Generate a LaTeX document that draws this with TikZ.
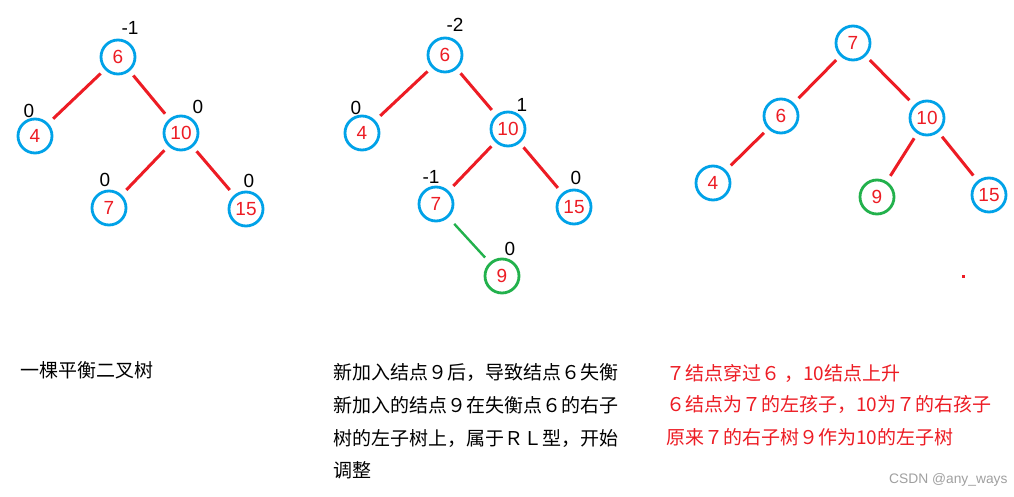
\documentclass[tikz,border=0pt]{standalone}
\usepackage{fontspec}
\setmainfont{Liberation Sans}
\newfontfamily\cjk{Noto Sans CJK SC}
\definecolor{pred}{HTML}{ED1C24}
\definecolor{pblue}{HTML}{00A2E8}
\definecolor{pgreen}{HTML}{22B14C}
\definecolor{wmgray}{HTML}{A0A0A0}
\begin{document}
\begin{tikzpicture}[x=1pt,y=-1pt,
  tnode/.style={circle, draw=pblue, line width=2.8pt, minimum size=34pt, inner sep=0pt, outer sep=0pt, text=pred, font=\fontsize{19}{20}\selectfont},
  gnode/.style={tnode, draw=pgreen},
  bal/.style={inner sep=0pt, font=\fontsize{19}{20}\selectfont},
  edge/.style={draw=pred, line width=3pt, shorten <=7pt, shorten >=8pt},
  gedge/.style={edge, draw=pgreen, line width=2.4pt, shorten <=10pt},
  txt/.style={anchor=west, inner sep=0pt, font=\cjk\fontsize{19}{24}\selectfont},
]
\fill[white] (0,0) rectangle (1014,497);
\useasboundingbox (0,0) rectangle (1014,497);

% ---------- tree 1 ----------
\node[tnode] (a6)  at (118,57)  {6};
\node[tnode] (a4)  at (35,136)  {4};
\node[tnode] (a10) at (181,133) {10};
\node[tnode] (a7)  at (109,208) {7};
\node[tnode] (a15) at (246,209) {15};
\draw[edge] (a6) -- (a4);
\draw[edge] (a6) -- (a10);
\draw[edge] (a10) -- (a7);
\draw[edge] (a10) -- (a15);
\node[bal] (ab6)  at (130,28)  {-1};
\node[bal] (ab4)  at (29,111)  {0};
\node[bal] (ab10) at (198,107) {0};
\node[bal] (ab7)  at (105,180) {0};
\node[bal] (ab15) at (249,181) {0};

% ---------- tree 2 ----------
\node[tnode] (b6)  at (445,55)  {6};
\node[tnode] (b4)  at (362,133) {4};
\node[tnode] (b10) at (508,129) {10};
\node[tnode] (b7)  at (436,204) {7};
\node[tnode] (b15) at (574,207) {15};
\node[gnode] (b9)  at (502,276) {9};
\draw[edge] (b6) -- (b4);
\draw[edge] (b6) -- (b10);
\draw[edge] (b10) -- (b7);
\draw[edge] (b10) -- (b15);
\draw[gedge] (b7) -- (b9);
\node[bal] (bb6)  at (455,25)  {-2};
\node[bal] (bb4)  at (356,108) {0};
\node[bal] (bb10) at (522,105) {1};
\node[bal] (bb7)  at (431,177) {-1};
\node[bal] (bb15) at (576,178) {0};
\node[bal] (bb9)  at (510,249) {0};

% ---------- tree 3 ----------
\node[tnode] (c7)  at (853,43)  {7};
\node[tnode] (c6)  at (781,116) {6};
\node[tnode] (c10) at (927,118) {10};
\node[tnode] (c4)  at (713,183) {4};
\node[gnode] (c9)  at (877,197) {9};
\node[tnode] (c15) at (989,195) {15};
\draw[edge] (c7) -- (c6);
\draw[edge] (c7) -- (c10);
\draw[edge] (c6) -- (c4);
\draw[edge] (c10) -- (c9);
\draw[edge] (c10) -- (c15);
\fill[pred] (961.5,274.5) rectangle (964.5,277.5);

% ---------- texts ----------
\node[txt] (t1) at (20,370) {一棵平衡二叉树};
\node[txt] (m1) at (333,372) {新加入结点９后，导致结点６失衡};
\node[txt] (m2) at (333,405) {新加入的结点９在失衡点６的右子};
\node[txt] (m3) at (333,438) {树的左子树上，属于ＲＬ型，开始};
\node[txt] (m4) at (333,470) {调整};
\node[txt, text=pred] (r1) at (666,373) {７结点穿过６ ，10结点上升};
\node[txt, text=pred] (r2) at (666,404) {６结点为７的左孩子，10为７的右孩子};
\node[txt, text=pred] (r3) at (666,437) {原来７的右子树９作为10的左子树};
\node[anchor=west, inner sep=0pt, text=wmgray, font=\fontsize{13.8}{16}\selectfont] (wm) at (889,480) {CSDN @any\_ways};
\end{tikzpicture}
\end{document}
